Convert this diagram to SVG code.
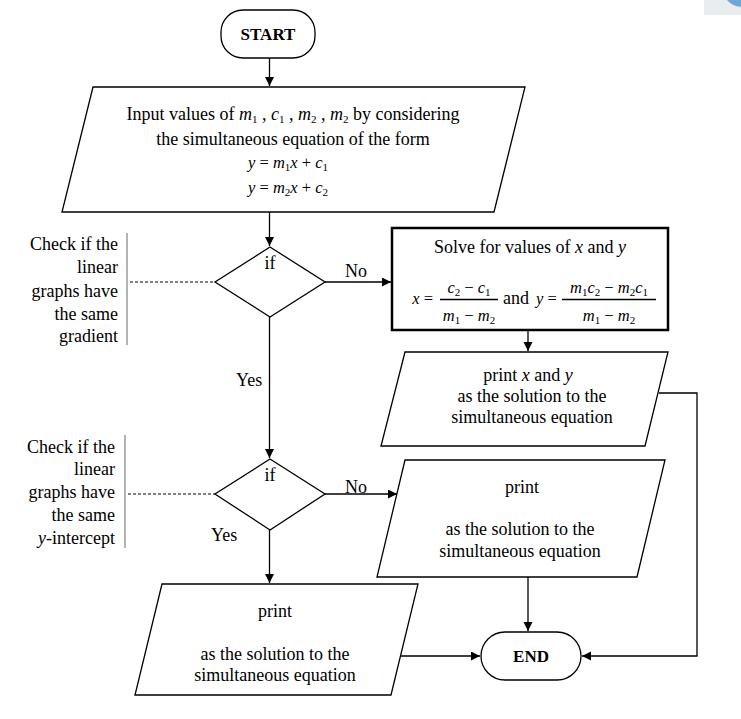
<svg xmlns="http://www.w3.org/2000/svg" width="741" height="719" viewBox="0 0 741 719">
<style>
.sh{fill:#fff;stroke:#000;stroke-width:1.3}
.ln{fill:none;stroke:#000;stroke-width:1.3}
.ds{fill:none;stroke:#000;stroke-width:1;stroke-dasharray:3,2}
.gb{fill:none;stroke:#9a9a9a;stroke-width:1.5}
.t{font-family:"Liberation Serif","Times New Roman",serif;font-size:18px;fill:#000}
.e{font-family:"Liberation Serif","Times New Roman",serif;font-size:16.5px;fill:#000}
.m{font-style:italic}
.s{font-size:11px}
.b{font-weight:bold;font-size:17px}
.r{text-anchor:end}
.c{text-anchor:middle}
</style>
<defs>
<marker id="ar" markerUnits="userSpaceOnUse" markerWidth="10" markerHeight="10" refX="9" refY="4.5" orient="auto">
<path d="M0,0 L9,4.5 L0,9 Z" fill="#000"/>
</marker>
</defs>
<rect x="704" y="0" width="37" height="15" fill="#e9edf0"/>
<path d="M727,0 L741,0 L741,7 Q732,6 727,0 Z" fill="#6fa8d8"/>

<g id="connectors">
<path class="ln" d="M269.5,58 V86" marker-end="url(#ar)"/>
<path class="ln" d="M269.5,212 V246" marker-end="url(#ar)"/>
<path class="ln" d="M325,282 H391" marker-end="url(#ar)"/>
<path class="ln" d="M528,330 V351" marker-end="url(#ar)"/>
<path class="ln" d="M269.5,317 V458" marker-end="url(#ar)"/>
<path class="ln" d="M325,494 H397" marker-end="url(#ar)"/>
<path class="ln" d="M269.5,530 V583" marker-end="url(#ar)"/>
<path class="ln" d="M401,656 H480" marker-end="url(#ar)"/>
<path class="ln" d="M528,577 V631" marker-end="url(#ar)"/>
<path class="ln" d="M659,393 H697 V656 H582" marker-end="url(#ar)"/>
<path class="ds" d="M130,282 H215"/>
<path class="ds" d="M128,494 H215"/>
<text class="t" x="345" y="277">No</text>
<text class="t" x="345" y="493">No</text>
<text class="t" x="236" y="386">Yes</text>
<text class="t" x="211" y="541">Yes</text>
</g>

<g id="start">
<rect class="sh" x="221" y="10" width="94" height="48" rx="22" ry="22"/>
<text class="t b c" x="268" y="40">START</text>
</g>

<g id="input">
<polygon class="sh" points="93,87 525,87 494,212 62,212"/>
<text class="t c" x="293" y="120">Input values of <tspan class="m">m</tspan><tspan class="s" dy="3">1</tspan><tspan dy="-3"> , </tspan><tspan class="m">c</tspan><tspan class="s" dy="3">1</tspan><tspan dy="-3"> , </tspan><tspan class="m">m</tspan><tspan class="s" dy="3">2</tspan><tspan dy="-3"> , </tspan><tspan class="m">m</tspan><tspan class="s" dy="3">2</tspan><tspan dy="-3">  by considering</tspan></text>
<text class="t c" x="293" y="145">the simultaneous equation of the form</text>
<text class="e c" x="288" y="168"><tspan class="m">y</tspan> = <tspan class="m">m</tspan><tspan class="s" dy="3">1</tspan><tspan class="m" dy="-3">x</tspan> + <tspan class="m">c</tspan><tspan class="s" dy="3">1</tspan></text>
<text class="e c" x="288" y="193"><tspan class="m">y</tspan> = <tspan class="m">m</tspan><tspan class="s" dy="3">2</tspan><tspan class="m" dy="-3">x</tspan> + <tspan class="m">c</tspan><tspan class="s" dy="3">2</tspan></text>
</g>

<g id="decision1">
<polygon class="sh" points="270,247 325,282 270,317 215,282"/>
<text class="t c" x="270" y="269">if</text>
</g>

<g id="note1">
<path class="gb" d="M127,233 V345"/>
<text class="t r" x="118" y="250">Check if the</text>
<text class="t r" x="118" y="273">linear</text>
<text class="t r" x="118" y="297">graphs have</text>
<text class="t r" x="118" y="320">the same</text>
<text class="t r" x="118" y="342">gradient</text>
</g>

<g id="solve">
<rect x="392" y="228" width="276" height="102" fill="#fff" stroke="#000" stroke-width="2.5"/>
<text class="t c" x="530" y="253">Solve for values of <tspan class="m">x</tspan> and <tspan class="m">y</tspan></text>
<text class="e r" x="433" y="304"><tspan class="m">x</tspan> =</text>
<text class="e c" x="469" y="293"><tspan class="m">c</tspan><tspan class="s" dy="3">2</tspan><tspan dy="-3"> − </tspan><tspan class="m">c</tspan><tspan class="s" dy="3">1</tspan></text>
<path class="ln" d="M440,299.5 H498" stroke-width="1"/>
<text class="e c" x="469" y="321"><tspan class="m">m</tspan><tspan class="s" dy="3">1</tspan><tspan dy="-3"> − </tspan><tspan class="m">m</tspan><tspan class="s" dy="3">2</tspan></text>
<text class="t" x="503" y="304">and</text>
<text class="e" x="536" y="304"><tspan class="m">y</tspan> =</text>
<text class="e c" x="609" y="293"><tspan class="m">m</tspan><tspan class="s" dy="3">1</tspan><tspan class="m" dy="-3">c</tspan><tspan class="s" dy="3">2</tspan><tspan dy="-3"> − </tspan><tspan class="m">m</tspan><tspan class="s" dy="3">2</tspan><tspan class="m" dy="-3">c</tspan><tspan class="s" dy="3">1</tspan></text>
<path class="ln" d="M562,299.5 H656" stroke-width="1"/>
<text class="e c" x="609" y="321"><tspan class="m">m</tspan><tspan class="s" dy="3">1</tspan><tspan dy="-3"> − </tspan><tspan class="m">m</tspan><tspan class="s" dy="3">2</tspan></text>
</g>

<g id="print1">
<polygon class="sh" points="405,352 668,352 645,446 381,446"/>
<text class="t c" x="528" y="381">print <tspan class="m">x</tspan> and <tspan class="m">y</tspan></text>
<text class="t c" x="532" y="402">as the solution to the</text>
<text class="t c" x="532" y="423">simultaneous equation</text>
</g>

<g id="decision2">
<polygon class="sh" points="270,459 325,494 270,530 215,494"/>
<text class="t c" x="270" y="481">if</text>
</g>

<g id="note2">
<path class="gb" d="M125,435 V548"/>
<text class="t r" x="115" y="453">Check if the</text>
<text class="t r" x="115" y="475">linear</text>
<text class="t r" x="115" y="498">graphs have</text>
<text class="t r" x="115" y="521">the same</text>
<text class="t r" x="115" y="544"><tspan class="m">y</tspan>-intercept</text>
</g>

<g id="print2">
<polygon class="sh" points="405,460 665,460 637,577 377,577"/>
<text class="t c" x="522" y="493">print</text>
<text class="t c" x="520" y="535">as the solution to the</text>
<text class="t c" x="520" y="557">simultaneous equation</text>
</g>

<g id="print3">
<polygon class="sh" points="162,584 418,584 391,695 135,695"/>
<text class="t c" x="275" y="617">print</text>
<text class="t c" x="275" y="660">as the solution to the</text>
<text class="t c" x="275" y="681">simultaneous equation</text>
</g>

<g id="end">
<rect class="sh" x="481" y="632" width="100" height="48" rx="24" ry="24"/>
<text class="t b c" x="531" y="662">END</text>
</g>
</svg>
